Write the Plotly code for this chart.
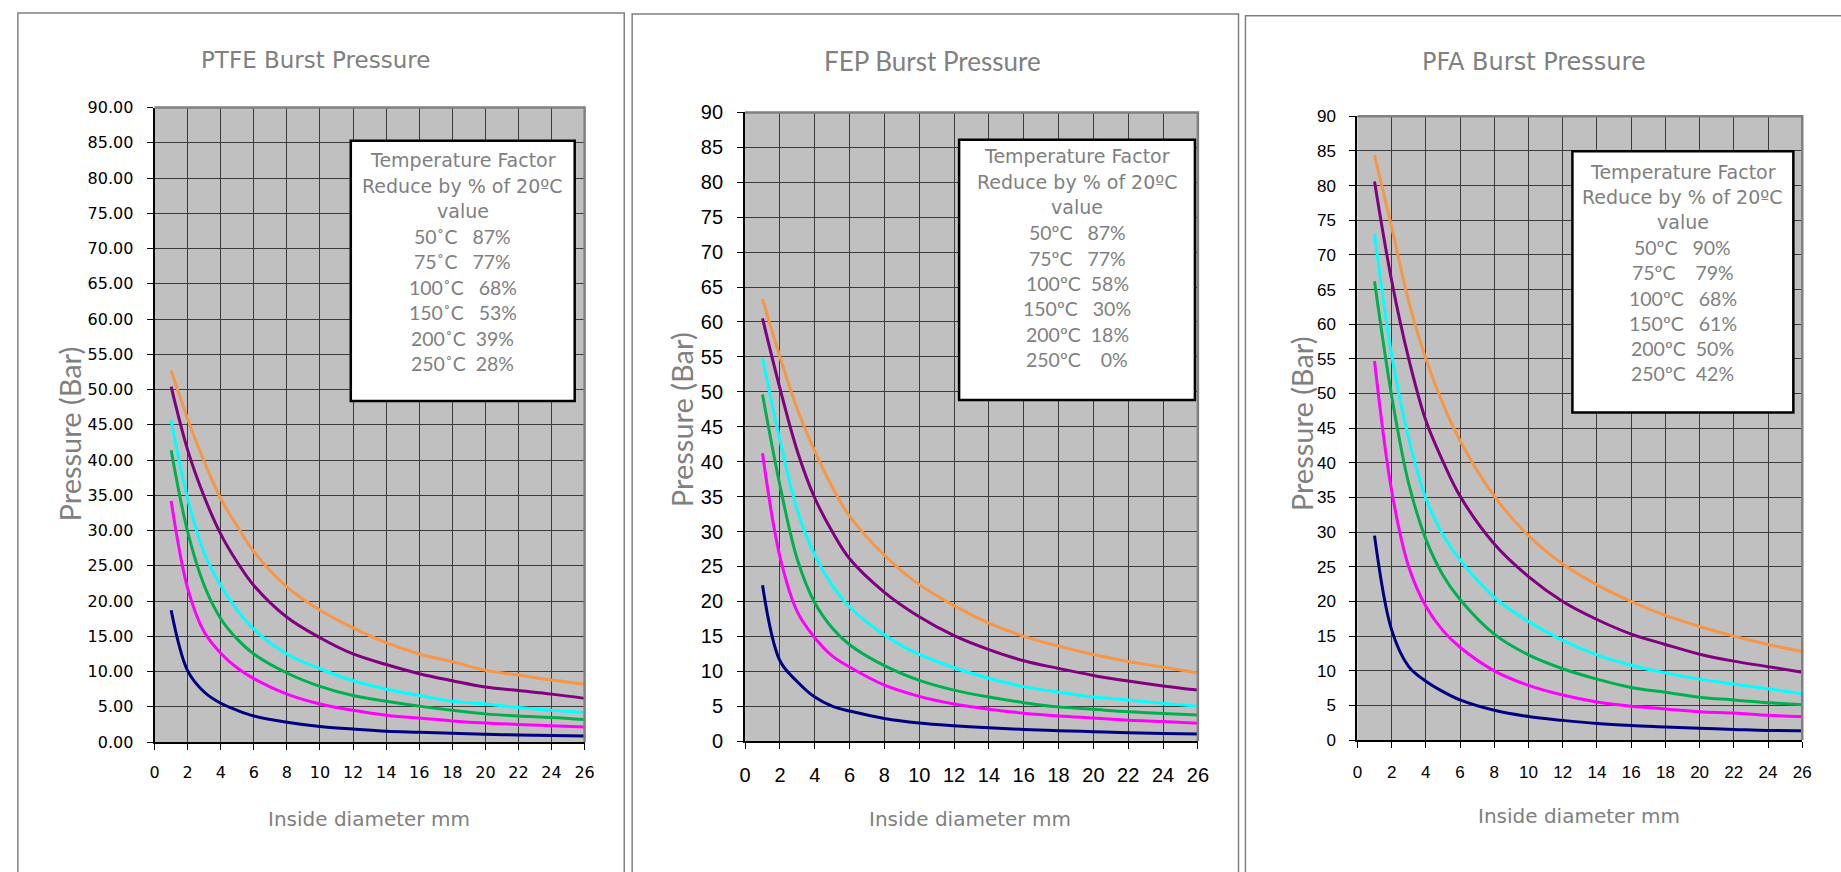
import plotly.graph_objects as go

W, H = 1841, 872

# ---------------- data ----------------
diam = [1, 2, 3, 4, 5, 6, 8, 10, 12, 14, 16, 18, 20, 22, 24, 26]
series_colors = ["#F79646", "#800080", "#00FFFF", "#00B050", "#FF00FF", "#000080"]

ptfe_orange = [52.7, 45.8, 39.8, 34.5, 30.6, 27.0, 22.0, 18.7, 16.2, 14.1, 12.5, 11.4, 10.2, 9.5, 8.8, 8.2]
ptfe_purple = [50.4, 41.4, 34.8, 29.5, 25.5, 22.2, 17.7, 14.8, 12.5, 11.0, 9.7, 8.7, 7.8, 7.3, 6.8, 6.2]
ptfe_cyan = [45.6, 34.5, 26.8, 22.2, 18.7, 16.0, 12.5, 10.4, 8.7, 7.5, 6.6, 5.8, 5.4, 4.9, 4.5, 4.2]
ptfe_green = [41.4, 29.8, 22.2, 17.5, 14.6, 12.5, 9.8, 7.9, 6.6, 5.8, 5.1, 4.5, 4.0, 3.7, 3.5, 3.2]
ptfe_magenta = [34.2, 21.8, 15.6, 12.6, 10.5, 9.0, 6.8, 5.4, 4.5, 3.8, 3.4, 3.0, 2.7, 2.5, 2.3, 2.15]
ptfe_navy = [18.7, 10.1, 7.1, 5.5, 4.5, 3.7, 2.8, 2.2, 1.85, 1.55, 1.4, 1.25, 1.1, 1.0, 0.95, 0.85]

fep_orange = [63.3, 55.0, 47.5, 41.5, 36.4, 32.2, 26.6, 22.4, 19.4, 16.9, 15.0, 13.6, 12.4, 11.4, 10.6, 9.75]
fep_purple = [60.5, 50.5, 41.5, 34.8, 30.0, 26.1, 21.3, 17.8, 15.1, 13.1, 11.5, 10.4, 9.4, 8.6, 7.9, 7.3]
fep_cyan = [54.8, 43.1, 33.0, 26.6, 22.3, 19.2, 15.2, 12.4, 10.5, 9.0, 7.8, 7.0, 6.3, 5.9, 5.4, 5.0]
fep_green = [49.6, 36.6, 26.0, 19.8, 16.2, 13.8, 10.8, 8.7, 7.3, 6.3, 5.5, 4.9, 4.55, 4.2, 3.95, 3.75]
fep_magenta = [41.2, 26.4, 18.5, 14.8, 12.2, 10.6, 8.0, 6.4, 5.3, 4.55, 4.0, 3.6, 3.3, 3.0, 2.8, 2.55]
fep_navy = [22.3, 11.5, 8.5, 6.3, 5.0, 4.3, 3.25, 2.6, 2.2, 1.9, 1.67, 1.5, 1.35, 1.2, 1.1, 1.0]

pfa_orange = [84.4, 74.0, 63.3, 55.0, 48.5, 43.2, 35.2, 29.5, 25.4, 22.4, 20.0, 18.0, 16.4, 15.0, 13.8, 12.8]
pfa_purple = [80.6, 66.3, 55.0, 46.1, 40.2, 35.2, 28.3, 23.6, 20.0, 17.4, 15.3, 13.8, 12.4, 11.4, 10.6, 9.8]
pfa_cyan = [73.1, 55.6, 43.5, 34.9, 29.6, 26.0, 20.6, 17.1, 14.4, 12.3, 10.8, 9.7, 8.8, 8.1, 7.4, 6.7]
pfa_green = [66.2, 49.7, 37.0, 29.0, 23.8, 20.3, 15.3, 12.3, 10.3, 8.8, 7.6, 6.9, 6.2, 5.8, 5.4, 5.1]
pfa_magenta = [54.7, 36.0, 25.0, 19.3, 15.8, 13.4, 10.0, 7.9, 6.5, 5.5, 4.9, 4.5, 4.1, 3.9, 3.6, 3.4]
pfa_navy = [29.5, 15.9, 10.6, 8.5, 7.0, 5.8, 4.3, 3.4, 2.85, 2.4, 2.1, 1.9, 1.7, 1.55, 1.4, 1.35]

titles = ["PTFE Burst Pressure", "FEP Burst Pressure", "PFA Burst Pressure"]
y_title = "Pressure (Bar)"
x_title = "Inside diameter mm"
box_header = ["Temperature Factor", "Reduce by % of 20ºC", "value"]
NB = "\u00a0"
ptfe_factors = ["50˚C" + NB*3 + "87%", "75˚C" + NB*3 + "77%", "100˚C" + NB*3 + "68%",
                "150˚C" + NB*3 + "53%", "200˚C" + NB*2 + "39%", "250˚C" + NB*2 + "28%"]
fep_factors = ["50ºC" + NB*3 + "87%", "75ºC" + NB*3 + "77%", "100ºC" + NB*2 + "58%",
               "150ºC" + NB*3 + "30%", "200ºC" + NB*2 + "18%", "250ºC" + NB*4 + "0%"]
pfa_factors = ["50ºC" + NB*3 + "90%", "75ºC" + NB*4 + "79%", "100ºC" + NB*3 + "68%",
               "150ºC" + NB*3 + "61%", "200ºC" + NB*2 + "50%", "250ºC" + NB*2 + "42%"]

panels_series = [
    [ptfe_orange, ptfe_purple, ptfe_cyan, ptfe_green, ptfe_magenta, ptfe_navy],
    [fep_orange, fep_purple, fep_cyan, fep_green, fep_magenta, fep_navy],
    [pfa_orange, pfa_purple, pfa_cyan, pfa_green, pfa_magenta, pfa_navy],
]
panels_factors = [ptfe_factors, fep_factors, pfa_factors]

# ---------------- layout geometry (pixels) ----------------
def px(x):
    return x / W

def py(y):
    return 1 - y / H

GRAY = "#808080"
plots = [  # left, right, top, bottom
    (150, 584, 99, 750),
    (746, 1203, 104, 749),
    (1364, 1813, 108, 748),
]
panel_frames = [(12, 624, 2), (632, 1244, 3), (1251, 1900, 5)]
tick_fonts = [
    dict(family="DejaVu Sans", size=16, color="#000000"),
    dict(family="Liberation Sans Narrow, Arial Narrow, Liberation Sans", size=20, color="#000000"),
    dict(family="Liberation Sans, Arial", size=17, color="#000000"),
]
tick_formats = [".2f", "d", "d"]
title_pos = [(312, 50, "DejaVu Sans", 23), (935, 51, "Lato", 26), (1542, 52, "DejaVu Sans", 24)]
ytitle_pos = [(64, 434), (682, 419), (1307, 423)]
xtitle_pos = [(366, 829), (973, 829), (1588, 826)]
boxes = [(348, 574, 133, 400), (962, 1200, 132, 399), (1581, 1804, 144, 412)]
box_first_line = [153, 149, 165]
box_line_step = [26.1, 26.1, 25.9]

fig = go.Figure()
shapes = []
annotations = []

for i in range(3):
    sfx = "" if i == 0 else str(i + 1)
    L, R, T, B = plots[i]
    xa = "x" + sfx
    ya = "y" + sfx
    for vals, col in zip(panels_series[i], series_colors):
        fig.add_trace(go.Scatter(
            x=diam, y=vals, mode="lines", xaxis=xa, yaxis=ya,
            line=dict(color=col, width=3, shape="spline", smoothing=1.0),
            showlegend=False, hoverinfo="x+y"))
    common = dict(showgrid=True, gridcolor="#3c3c3c", gridwidth=1, zeroline=False,
                  showline=True, linecolor="#000000", linewidth=2,
                  ticks="outside", ticklen=6, tickcolor="#000000", tickwidth=1,
                  tickfont=tick_fonts[i])
    fig.layout["xaxis" + sfx] = dict(
        domain=[px(L), px(R)], range=[0, 26], dtick=2, tick0=0,
        anchor=ya, ticklabelstandoff=9, **common)
    fig.layout["yaxis" + sfx] = dict(
        domain=[py(B), py(T)], range=[0, 90], dtick=5, tick0=0,
        tickformat=tick_formats[i], anchor=xa, ticklabelstandoff=10, **common)

    # panel frame
    fl, fr, ft = panel_frames[i]
    shapes.append(dict(type="rect", xref="paper", yref="paper",
                       x0=px(fl), x1=px(fr), y0=py(ft), y1=py(1000),
                       line=dict(color=GRAY, width=1.5), fillcolor="rgba(0,0,0,0)",
                       layer="below"))
    # plot background
    shapes.append(dict(type="rect", xref="paper", yref="paper",
                       x0=px(L), x1=px(R), y0=py(B), y1=py(T),
                       line=dict(width=0), fillcolor="#C0C0C0", layer="below"))
    # top/right plot frame in gray
    shapes.append(dict(type="path", xref="paper", yref="paper",
                       path=f"M {px(L)} {py(T)} L {px(R)} {py(T)} L {px(R)} {py(B)}",
                       line=dict(color=GRAY, width=2.5), layer="above"))
    # text box
    bl, br, bt, bb = boxes[i]
    shapes.append(dict(type="rect", xref="paper", yref="paper",
                       x0=px(bl), x1=px(br), y0=py(bb), y1=py(bt),
                       line=dict(color="#000000", width=2.5), fillcolor="#FFFFFF",
                       layer="above"))
    cx = (bl + br) / 2
    lines = box_header + panels_factors[i]
    for k, txt in enumerate(lines):
        is_head = k < 3
        annotations.append(dict(
            xref="paper", yref="paper", x=px(cx), y=py(box_first_line[i] + k * box_line_step[i]),
            text=txt, showarrow=False, xanchor="center", yanchor="middle",
            font=dict(family="DejaVu Sans" if is_head else "Lato",
                      size=19 if is_head else 19.5, color=GRAY)))
    # chart title
    tx, ty, tf, ts = title_pos[i]
    annotations.append(dict(xref="paper", yref="paper", x=px(tx), y=py(ty),
                            text=titles[i], showarrow=False, xanchor="center", yanchor="middle",
                            font=dict(family=tf, size=ts, color=GRAY)))
    # y title
    yx, yy = ytitle_pos[i]
    annotations.append(dict(xref="paper", yref="paper", x=px(yx), y=py(yy),
                            text=y_title, showarrow=False, textangle=-90,
                            xanchor="center", yanchor="middle",
                            font=dict(family="Lato", size=29, color=GRAY)))
    # x title
    xx, xy = xtitle_pos[i]
    annotations.append(dict(xref="paper", yref="paper", x=px(xx), y=py(xy),
                            text=x_title, showarrow=False, xanchor="center", yanchor="middle",
                            font=dict(family="DejaVu Sans", size=20, color=GRAY)))

fig.update_layout(
    width=W, height=H, margin=dict(l=0, r=0, t=0, b=0),
    paper_bgcolor="#FFFFFF", plot_bgcolor="rgba(0,0,0,0)",
    shapes=shapes, annotations=annotations, showlegend=False,
)

page_fix = (
    "document.documentElement.style.margin='0';"
    "document.documentElement.style.overflow='hidden';"
    "document.body.style.margin='0';document.body.style.padding='0';"
    "document.body.style.overflow='hidden';"
    "var gd=document.getElementById('{plot_id}');"
    "gd.style.position='fixed';gd.style.left='0px';gd.style.top='0px';"
)
fig.write_html("out.html", config={"displayModeBar": False}, post_script=page_fix)
